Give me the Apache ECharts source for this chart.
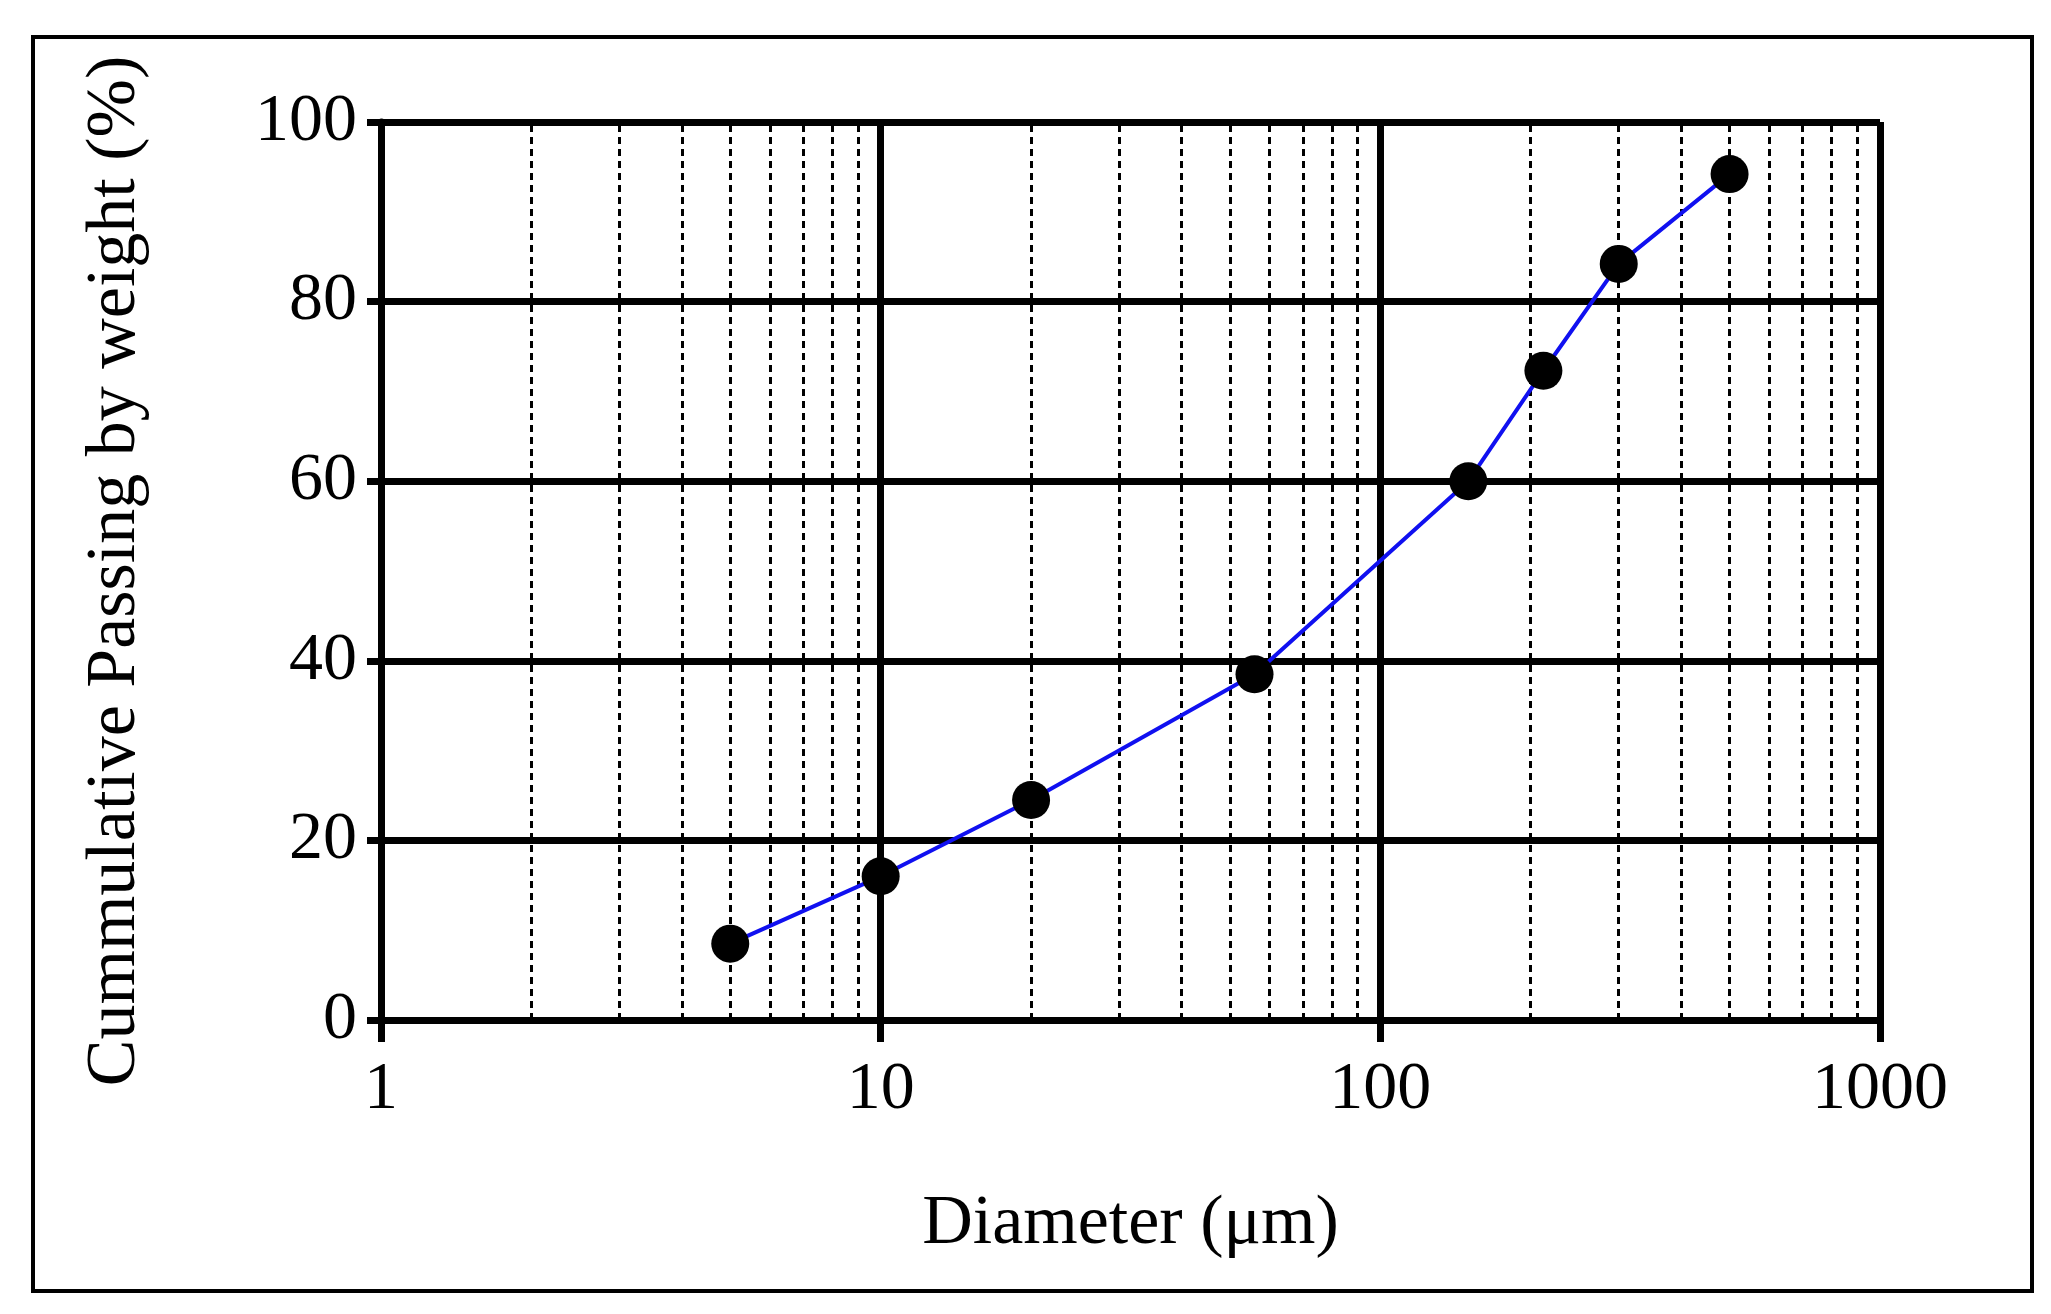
<!DOCTYPE html>
<html><head><meta charset="utf-8">
<script src="https://cdn.jsdelivr.net/npm/echarts@6/dist/echarts.min.js"></script>
<style>html,body{margin:0;padding:0;background:#fff}#c{width:2051px;height:1314px}</style>
</head><body><div id="c"></div>
<script>
const diameters = [5, 10, 20, 56, 150, 212, 300, 500];
const passing = [8.5, 16, 24.5, 38.5, 60, 72.3, 84.2, 94.2];
const minorLines = [2,3,4,5,6,7,8,9,20,30,40,50,60,70,80,90,200,300,400,500,600,700,800,900];
const majorLines = [10, 100, 1000];
const font = 'Liberation Serif';
const chart = echarts.init(document.getElementById('c'));
chart.setOption({
  animation:false,
  graphic:[{type:'rect',shape:{x:33,y:37,width:1999,height:1254},style:{fill:null,stroke:'#000',lineWidth:4}}],
  grid:{left:381,right:171,top:122,bottom:294},
  xAxis:{type:'log',logBase:10,min:1,max:1000,name:'Diameter (μm)',nameLocation:'middle',nameGap:170,
    nameTextStyle:{fontFamily:font,fontSize:70,color:'#000'},
    axisLine:{lineStyle:{color:'#000',width:7}},
    axisTick:{length:22,lineStyle:{color:'#000',width:7}},
    axisLabel:{fontFamily:font,fontSize:68,color:'#000',margin:36,formatter:v=>String(v)},
    splitLine:{show:false}},
  yAxis:{type:'value',min:0,max:100,interval:20,name:'Cummulative Passing by weight (%)',nameLocation:'middle',nameGap:230,
    nameTextStyle:{fontFamily:font,fontSize:70,color:'#000'},
    axisLine:{lineStyle:{color:'#000',width:7}},
    axisTick:{length:14,lineStyle:{color:'#000',width:7}},
    axisLabel:{fontFamily:font,fontSize:68,color:'#000',margin:24},
    splitLine:{lineStyle:{color:'#000',width:7}}},
  series:[{type:'line',data:diameters.map((d,i)=>[d,passing[i]]),
    symbol:'circle',symbolSize:38,
    lineStyle:{color:'#1010f0',width:4},itemStyle:{color:'#000'},z:5,
    markLine:{silent:true,symbol:'none',label:{show:false},animation:false,
      data:minorLines.map(v=>({xAxis:v,lineStyle:{type:[7,5],color:'#000',width:3}}))
        .concat(majorLines.map(v=>({xAxis:v,lineStyle:{type:'solid',color:'#000',width:7}})))}}]
});
</script></body></html>
